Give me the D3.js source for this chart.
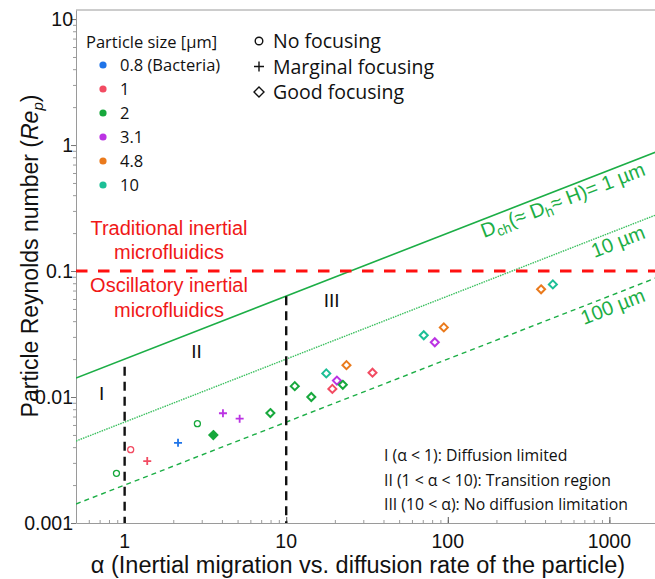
<!DOCTYPE html>
<html>
<head>
<meta charset="utf-8">
<script src="https://cdn.jsdelivr.net/npm/d3@7"></script>
<style>
  html, body { margin: 0; padding: 0; background: #fff; }
  svg { display: block; }
</style>
</head>
<body>
<svg id="chart" width="655" height="579"></svg>
<script>
// Particle sizes (µm) and their colours
const sizes = ["0.8 (Bacteria)", "1", "2", "3.1", "4.8", "10"];
const sizeColors = ["#1f74e8", "#f24b62", "#17a83c", "#bb33e3", "#ea7a1c", "#1cbf96"];

// Focusing outcome of each experiment
const focusTypes = ["No focusing", "Marginal focusing", "Good focusing"];

// Experiments: alpha, particle Reynolds number, particle size index, focusing type, filled
const alphaValues = [0.89, 1.09, 1.38, 2.14, 2.82, 3.54, 4.06, 5.15, 7.98, 11.3, 14.3, 17.7, 19.3, 20.6, 22.4, 23.6, 34.2, 71.0, 83.1, 94.5, 378, 447];
const repValues   = [0.00248, 0.00382, 0.0031, 0.00433, 0.00614, 0.00499, 0.00743, 0.00673, 0.00746, 0.0122, 0.0100, 0.0154, 0.0116, 0.0135, 0.0125, 0.0179, 0.0156, 0.0309, 0.0272, 0.0357, 0.0716, 0.0783];
const sizeIndex   = [2, 1, 1, 0, 2, 2, 3, 3, 2, 2, 2, 5, 1, 3, 2, 4, 1, 5, 3, 4, 4, 5];
const focusIndex  = [0, 0, 1, 1, 0, 2, 1, 1, 2, 2, 2, 2, 2, 2, 2, 2, 2, 2, 2, 2, 2, 2];
const filled      = [0, 0, 0, 0, 0, 1, 0, 0, 0, 0, 0, 0, 0, 0, 0, 0, 0, 0, 0, 0, 0, 0];

// Channel dimension lines: Re_p = coef * sqrt(alpha)
const channelLabels = ["Dch", "10 µm", "100 µm"];
const channelCoef = [0.02, 0.02 / Math.sqrt(10), 0.002];

// Regime boundaries
const regimeAlpha = [1, 10];
const regimeTop = [0.0174, 0.063];
const regimeNames = ["I", "II", "III"];
const regimeNamePos = [[0.72, 0.0095], [2.79, 0.0205], [19.1, 0.052]];
const regimeNotes = ["I (α < 1): Diffusion limited", "II (1 < α < 10): Transition region", "III (10 < α): No diffusion limitation"];

const xTicks = [1, 10, 100, 1000];
const yTicks = [10, 1, 0.1, 0.01, 0.001];
const rePlanar = 0.1;

const svg = d3.select("#chart");
const x = d3.scaleLog().domain([0.5, 2000]).range([76, 658]);
const y = d3.scaleLog().domain([0.001, 11.8]).range([523, 10]);

const axisColor = "#9a9a9a";
const green = "#1cae46";
const mainFont = "Liberation Sans, Arial, sans-serif";
const legFont = "Open Sans, Noto Sans, sans-serif";

// Top frame line
svg.append("line").attr("x1", 76).attr("x2", 655).attr("y1", 10).attr("y2", 10)
  .attr("stroke", axisColor).attr("stroke-width", 1);

// x axis
const xMinor = [];
for (let e = -1; e <= 3; e++) for (let m = 1; m <= 9; m++) {
  const v = m * Math.pow(10, e);
  if (v >= 0.5 && v <= 2000) xMinor.push(v);
}
const xAxisG = svg.append("g").attr("transform", "translate(0,523)");
xAxisG.call(d3.axisTop(x).tickValues(xMinor).tickFormat("").tickSizeInner(3).tickSizeOuter(0));
xAxisG.selectAll("line").attr("stroke", axisColor);
xAxisG.select(".domain").attr("stroke", axisColor);
const xMajor = svg.append("g").attr("transform", "translate(0,523)");
xMajor.call(d3.axisTop(x).tickValues(xTicks).tickFormat("").tickSizeInner(6).tickSizeOuter(0));
xMajor.select(".domain").remove();
xMajor.selectAll("line").attr("stroke", "#555");
svg.append("g").selectAll("text").data(xTicks).join("text")
  .attr("x", d => x(d)).attr("y", 548)
  .attr("text-anchor", "middle")
  .attr("font-family", mainFont).attr("font-size", 19.5)
  .attr("fill", "#111").text(d => d3.format("d")(d));

// y axis
const yMinor = [];
for (let e = -3; e <= 1; e++) for (let m = 1; m <= 9; m++) {
  const v = m * Math.pow(10, e);
  if (v >= 0.001 && v <= 11) yMinor.push(v);
}
const yAxisG = svg.append("g").attr("transform", "translate(76,0)");
yAxisG.call(d3.axisLeft(y).tickValues(yMinor).tickFormat("").tickSizeInner(3).tickSizeOuter(0));
yAxisG.selectAll("line").attr("stroke", axisColor);
yAxisG.select(".domain").attr("stroke", axisColor);
const yMajor = svg.append("g").attr("transform", "translate(76,0)");
yMajor.call(d3.axisLeft(y).tickValues(yTicks).tickFormat("").tickSizeInner(5).tickSizeOuter(0));
yMajor.select(".domain").remove();
yMajor.selectAll("line").attr("stroke", "#777");
svg.append("g").selectAll("text").data(yTicks).join("text")
  .attr("x", 73).attr("y", d => y(d) + 7)
  .attr("text-anchor", "end")
  .attr("font-family", mainFont).attr("font-size", 19.5)
  .attr("fill", "#111").text(d => String(d));

// Axis titles
svg.append("text")
  .attr("x", 358).attr("y", 573).attr("text-anchor", "middle")
  .attr("font-family", mainFont).attr("font-size", 23.5).attr("fill", "#111")
  .text("α (Inertial migration vs. diffusion rate of the particle)");
const yTitle = svg.append("text")
  .attr("transform", "translate(38,256) rotate(-90)").attr("text-anchor", "middle")
  .attr("font-family", mainFont).attr("font-size", 23).attr("fill", "#111");
yTitle.append("tspan").text("Particle Reynolds number (");
yTitle.append("tspan").attr("font-style", "italic").text("Re");
yTitle.append("tspan").attr("font-style", "italic").attr("font-size", 15).attr("dy", 5).text("p");
yTitle.append("tspan").attr("dy", -5).text(")");

// Clip the plotting region
svg.append("clipPath").attr("id", "plotClip").append("rect")
  .attr("x", 76).attr("y", 10).attr("width", 582).attr("height", 513);
const plot = svg.append("g").attr("clip-path", "url(#plotClip)");

// Channel dimension lines
const lineGen = d3.line().x(d => x(d[0])).y(d => y(d[1]));
const dashes = [null, "1.5,1", "5,4"];
channelCoef.forEach((c, i) => {
  const pts = [0.5, 2000].map(a => [a, c * Math.sqrt(a)]);
  plot.append("path").attr("d", lineGen(pts))
    .attr("fill", "none").attr("stroke", i === 1 ? "#3cc060" : green)
    .attr("stroke-width", i === 0 ? 1.6 : 1.4)
    .attr("stroke-dasharray", dashes[i]);
});

// Boundary between traditional and oscillatory microfluidics
plot.append("line")
  .attr("x1", x(0.5)).attr("x2", x(2000)).attr("y1", y(rePlanar)).attr("y2", y(rePlanar))
  .attr("stroke", "#ff1010").attr("stroke-width", 3).attr("stroke-dasharray", "11.5,10.5");

// Regime boundaries
regimeAlpha.forEach((a, i) => {
  plot.append("line")
    .attr("x1", x(a)).attr("x2", x(a)).attr("y1", y(regimeTop[i])).attr("y2", 523)
    .attr("stroke", "#111").attr("stroke-width", 2.4).attr("stroke-dasharray", "9,6");
});

// Regime names
svg.append("g").selectAll("text").data(regimeNames).join("text")
  .attr("x", (d, i) => x(regimeNamePos[i][0])).attr("y", (d, i) => y(regimeNamePos[i][1]))
  .attr("text-anchor", "middle")
  .attr("font-family", mainFont).attr("font-size", 19).attr("fill", "#111")
  .text(d => d);

// Red region labels
const redText = [["Traditional inertial", 235], ["microfluidics", 259], ["Oscillatory inertial", 292], ["microfluidics", 317]];
svg.append("g").selectAll("text").data(redText).join("text")
  .attr("x", 169).attr("y", d => d[1]).attr("text-anchor", "middle")
  .attr("font-family", mainFont).attr("font-size", 20).attr("fill", "#f01818")
  .text(d => d[0]);

// Rotated labels for channel lines, hung just below each line
const angle = -Math.atan(0.5 * (y(0.01) - y(0.1)) / (x(10) - x(1))) * 180 / Math.PI;
const labelAlpha = 1700;
const labelDrop = 19;
const dch = svg.append("text")
  .attr("transform", `translate(${x(labelAlpha)},${y(0.02 * Math.sqrt(labelAlpha)) + labelDrop}) rotate(${angle})`)
  .attr("text-anchor", "end")
  .attr("font-family", mainFont).attr("font-size", 20).attr("fill", green);
dch.append("tspan").text("D");
dch.append("tspan").attr("font-size", 14).attr("dy", 4).text("ch");
dch.append("tspan").attr("dy", -4).text("(≈ D");
dch.append("tspan").attr("font-size", 14).attr("dy", 4).text("h");
dch.append("tspan").attr("dy", -4).text("≈ H)= 1 µm");
[1, 2].forEach(i => {
  svg.append("text")
    .attr("transform", `translate(${x(labelAlpha)},${y(channelCoef[i] * Math.sqrt(labelAlpha)) + labelDrop}) rotate(${angle})`)
    .attr("text-anchor", "end")
    .attr("font-family", mainFont).attr("font-size", 20).attr("fill", green)
    .text(channelLabels[i]);
});

// Regime notes
svg.append("g").selectAll("text").data(regimeNotes).join("text")
  .attr("x", 384).attr("y", (d, i) => 461 + i * 24.5)
  .attr("font-family", legFont).attr("font-size", 15.8).attr("fill", "#111")
  .text(d => d);

// Marker drawing
function drawMarker(g, type, color, fill) {
  if (type === 0) {
    g.append("circle").attr("r", 3).attr("fill", fill ? color : "#fff").attr("stroke", color).attr("stroke-width", 1.3);
  } else if (type === 1) {
    g.append("path").attr("d", "M-4,0H4M0,-4V4").attr("stroke", color).attr("stroke-width", 1.8).attr("fill", "none");
  } else {
    g.append("path").attr("d", "M0,-4L4,0L0,4L-4,0Z").attr("fill", fill ? color : "#fff")
      .attr("stroke", color).attr("stroke-width", 2);
  }
}

// Data points
alphaValues.forEach((a, i) => {
  const g = plot.append("g").attr("transform", `translate(${x(a)},${y(repValues[i])})`);
  drawMarker(g, focusIndex[i], sizeColors[sizeIndex[i]], filled[i]);
});

// Size legend
svg.append("text").attr("x", 86).attr("y", 48)
  .attr("font-family", legFont).attr("font-size", 16.5).attr("fill", "#111").text("Particle size [µm]");
sizes.forEach((s, i) => {
  const cy = 65 + i * 24;
  svg.append("circle").attr("cx", 103).attr("cy", cy).attr("r", 3.6).attr("fill", sizeColors[i]);
  svg.append("text").attr("x", 120).attr("y", cy + 6)
    .attr("font-family", legFont).attr("font-size", 16.5).attr("fill", "#111").text(s);
});

// Focusing legend
focusTypes.forEach((f, i) => {
  const cy = 41 + i * 25.5;
  const g = svg.append("g").attr("transform", `translate(259,${cy})`);
  if (i === 0) g.append("circle").attr("r", 3.8).attr("fill", "none").attr("stroke", "#111").attr("stroke-width", 1.4);
  else if (i === 1) g.append("path").attr("d", "M-5,0H5M0,-5V5").attr("stroke", "#111").attr("stroke-width", 1.4);
  else g.append("path").attr("d", "M0,-5L5,0L0,5L-5,0Z").attr("fill", "none").attr("stroke", "#111").attr("stroke-width", 1.4);
  svg.append("text").attr("x", 273).attr("y", cy + 7)
    .attr("font-family", legFont).attr("font-size", 19.5).attr("fill", "#111").text(f);
});
</script>
</body>
</html>
